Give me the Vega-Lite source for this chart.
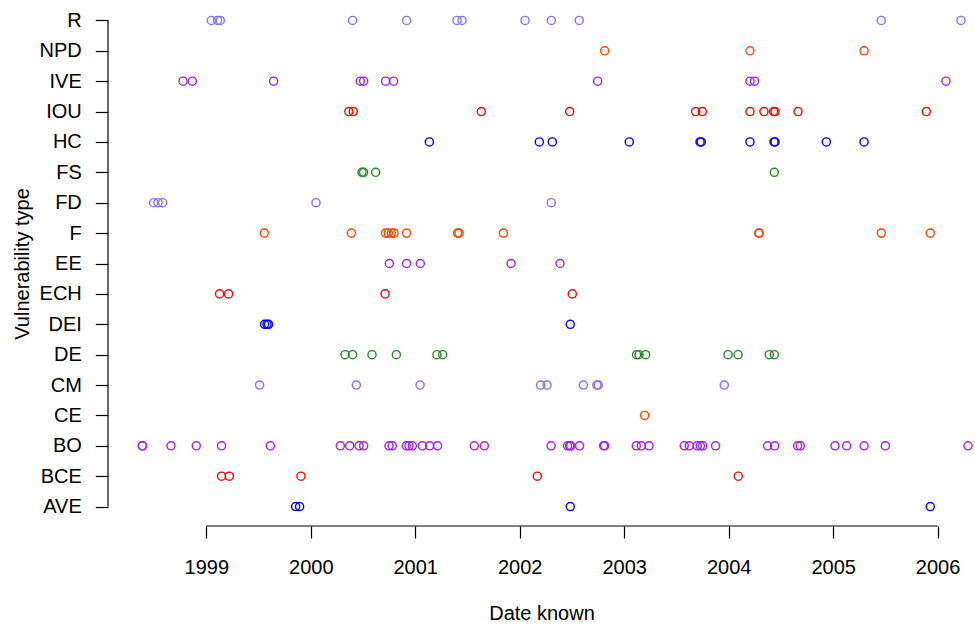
{
  "$schema": "https://vega.github.io/schema/vega-lite/v6.json",
  "autosize": {"type": "none"},
  "padding": {"left": 108, "top": 1, "right": 0, "bottom": 100},
  "width": 867,
  "height": 525,
  "config": {"view": {"stroke": null}, "font": "Liberation Sans"},
  "layer": [
    {
      "data": {"values": [{"start": 1999, "end": 2006}]},
      "mark": {"type": "rule", "color": "black", "strokeWidth": 1.2},
      "encoding": {
        "x": {"field": "start", "type": "quantitative", "title": "Date known"},
        "x2": {"field": "end"},
        "y": {"value": "height"}
      }
    },
    {
      "data": {"values": [{"first": "R", "last": "AVE", "left": 1998.059}]},
      "mark": {"type": "rule", "color": "black", "strokeWidth": 1.2},
      "encoding": {
        "x": {"field": "left", "type": "quantitative", "title": "Date known"},
        "y": {"field": "first", "type": "nominal", "title": "Vulnerability type"},
        "y2": {"field": "last"}
      }
    },
    {
      "data": {"values": [
        {"type":"R","year":1999.048},{"type":"R","year":1999.108},{"type":"R","year":1999.134},{"type":"R","year":2000.400},{"type":"R","year":2000.917},{"type":"R","year":2001.400},{"type":"R","year":2001.448},{"type":"R","year":2002.051},{"type":"R","year":2002.302},{"type":"R","year":2002.570},{"type":"R","year":2005.461},{"type":"R","year":2006.224},
        {"type":"NPD","year":2002.813},{"type":"NPD","year":2004.204},{"type":"NPD","year":2005.296},
        {"type":"IVE","year":1998.777},{"type":"IVE","year":1998.866},{"type":"IVE","year":1999.644},{"type":"IVE","year":2000.474},{"type":"IVE","year":2000.506},{"type":"IVE","year":2000.716},{"type":"IVE","year":2000.793},{"type":"IVE","year":2002.746},{"type":"IVE","year":2004.204},{"type":"IVE","year":2004.248},{"type":"IVE","year":2006.080},
        {"type":"IOU","year":2000.364},{"type":"IOU","year":2000.407},{"type":"IOU","year":2001.632},{"type":"IOU","year":2002.478},{"type":"IOU","year":2003.684},{"type":"IOU","year":2003.748},{"type":"IOU","year":2004.204},{"type":"IOU","year":2004.338},{"type":"IOU","year":2004.430},{"type":"IOU","year":2004.444},{"type":"IOU","year":2004.664},{"type":"IOU","year":2005.892},
        {"type":"HC","year":2001.135},{"type":"HC","year":2002.188},{"type":"HC","year":2002.312},{"type":"HC","year":2003.049},{"type":"HC","year":2003.726},{"type":"HC","year":2003.738},{"type":"HC","year":2004.204},{"type":"HC","year":2004.434},{"type":"HC","year":2004.444},{"type":"HC","year":2004.935},{"type":"HC","year":2005.296},
        {"type":"FS","year":2000.490},{"type":"FS","year":2000.506},{"type":"FS","year":2000.621},{"type":"FS","year":2004.437},
        {"type":"FD","year":1998.496},{"type":"FD","year":1998.538},{"type":"FD","year":1998.582},{"type":"FD","year":2000.050},{"type":"FD","year":2002.302},
        {"type":"F","year":1999.555},{"type":"F","year":2000.388},{"type":"F","year":2000.716},{"type":"F","year":2000.742},{"type":"F","year":2000.771},{"type":"F","year":2000.797},{"type":"F","year":2000.917},{"type":"F","year":2001.405},{"type":"F","year":2001.419},{"type":"F","year":2001.843},{"type":"F","year":2004.287},{"type":"F","year":2004.293},{"type":"F","year":2005.461},{"type":"F","year":2005.930},
        {"type":"EE","year":2000.752},{"type":"EE","year":2000.917},{"type":"EE","year":2001.048},{"type":"EE","year":2001.917},{"type":"EE","year":2002.386},
        {"type":"ECH","year":1999.127},{"type":"ECH","year":1999.213},{"type":"ECH","year":2000.711},{"type":"ECH","year":2002.503},
        {"type":"DEI","year":1999.558},{"type":"DEI","year":1999.581},{"type":"DEI","year":1999.596},{"type":"DEI","year":2002.484},
        {"type":"DE","year":2000.328},{"type":"DE","year":2000.400},{"type":"DE","year":2000.586},{"type":"DE","year":2000.819},{"type":"DE","year":2001.208},{"type":"DE","year":2001.262},{"type":"DE","year":2003.119},{"type":"DE","year":2003.142},{"type":"DE","year":2003.205},{"type":"DE","year":2003.994},{"type":"DE","year":2004.090},{"type":"DE","year":2004.389},{"type":"DE","year":2004.437},
        {"type":"CM","year":1999.510},{"type":"CM","year":2000.436},{"type":"CM","year":2001.046},{"type":"CM","year":2002.200},{"type":"CM","year":2002.261},{"type":"CM","year":2002.609},{"type":"CM","year":2002.738},{"type":"CM","year":2002.752},{"type":"CM","year":2003.958},
        {"type":"CE","year":2003.196},
        {"type":"BO","year":1998.387},{"type":"BO","year":1998.390},{"type":"BO","year":1998.662},{"type":"BO","year":1998.904},{"type":"BO","year":1999.146},{"type":"BO","year":1999.613},{"type":"BO","year":2000.283},{"type":"BO","year":2000.372},{"type":"BO","year":2000.462},{"type":"BO","year":2000.506},{"type":"BO","year":2000.749},{"type":"BO","year":2000.780},{"type":"BO","year":2000.914},{"type":"BO","year":2000.940},{"type":"BO","year":2000.972},{"type":"BO","year":2001.068},{"type":"BO","year":2001.137},{"type":"BO","year":2001.214},{"type":"BO","year":2001.565},{"type":"BO","year":2001.661},{"type":"BO","year":2002.300},{"type":"BO","year":2002.458},{"type":"BO","year":2002.478},{"type":"BO","year":2002.489},{"type":"BO","year":2002.573},{"type":"BO","year":2002.803},{"type":"BO","year":2002.813},{"type":"BO","year":2003.116},{"type":"BO","year":2003.164},{"type":"BO","year":2003.238},{"type":"BO","year":2003.575},{"type":"BO","year":2003.623},{"type":"BO","year":2003.700},{"type":"BO","year":2003.729},{"type":"BO","year":2003.751},{"type":"BO","year":2003.875},{"type":"BO","year":2004.373},{"type":"BO","year":2004.440},{"type":"BO","year":2004.660},{"type":"BO","year":2004.686},{"type":"BO","year":2005.018},{"type":"BO","year":2005.129},{"type":"BO","year":2005.296},{"type":"BO","year":2005.500},{"type":"BO","year":2006.291},
        {"type":"BCE","year":1999.146},{"type":"BCE","year":1999.220},{"type":"BCE","year":1999.906},{"type":"BCE","year":2002.168},{"type":"BCE","year":2004.092},
        {"type":"AVE","year":1999.855},{"type":"AVE","year":1999.893},{"type":"AVE","year":2002.484},{"type":"AVE","year":2005.930}
      ]},
      "mark": {"type": "point", "shape": "circle", "filled": false, "size": 66, "strokeWidth": 1.4, "opacity": 1},
      "encoding": {
        "x": {
          "field": "year", "type": "quantitative",
          "scale": {"domain": [1998.059, 2006.358], "nice": false, "zero": false},
          "axis": {
            "values": [1999, 2000, 2001, 2002, 2003, 2004, 2005, 2006],
            "format": "d", "domain": false, "grid": false,
            "tickSize": 12, "tickColor": "black", "tickWidth": 1.2,
            "labelFontSize": 20, "labelColor": "black", "labelPadding": 19,
            "labelFlush": false, "labelOverlap": false,
            "title": "Date known", "titleFontSize": 20, "titleFontWeight": "normal",
            "titleColor": "black", "titleY": 87, "titleBaseline": "middle"
          }
        },
        "y": {
          "field": "type", "type": "nominal",
          "scale": {"type": "point", "domain": ["R","NPD","IVE","IOU","HC","FS","FD","F","EE","ECH","DEI","DE","CM","CE","BO","BCE","AVE"], "padding": 0.64},
          "axis": {
            "domain": false, "grid": false,
            "tickSize": 12.7, "tickColor": "black", "tickWidth": 1.2,
            "labelFontSize": 20, "labelColor": "black", "labelPadding": 14,
            "title": "Vulnerability type", "titleFontSize": 20, "titleFontWeight": "normal",
            "titleColor": "black", "titleX": -86, "titleY": 262.5, "titleAngle": 270,
            "titleAlign": "center", "titleBaseline": "middle"
          }
        },
        "color": {
          "field": "type", "type": "nominal", "legend": null,
          "scale": {
            "domain": ["R","NPD","IVE","IOU","HC","FS","FD","F","EE","ECH","DEI","DE","CM","CE","BO","BCE","AVE"],
            "range": ["#8470FF","#FF4500","#A020F0","#FF0000","#0000FF","#228B22","#8470FF","#FF4500","#A020F0","#FF0000","#0000FF","#228B22","#8470FF","#FF4500","#A020F0","#FF0000","#0000FF"]
          }
        }
      }
    }
  ]
}
